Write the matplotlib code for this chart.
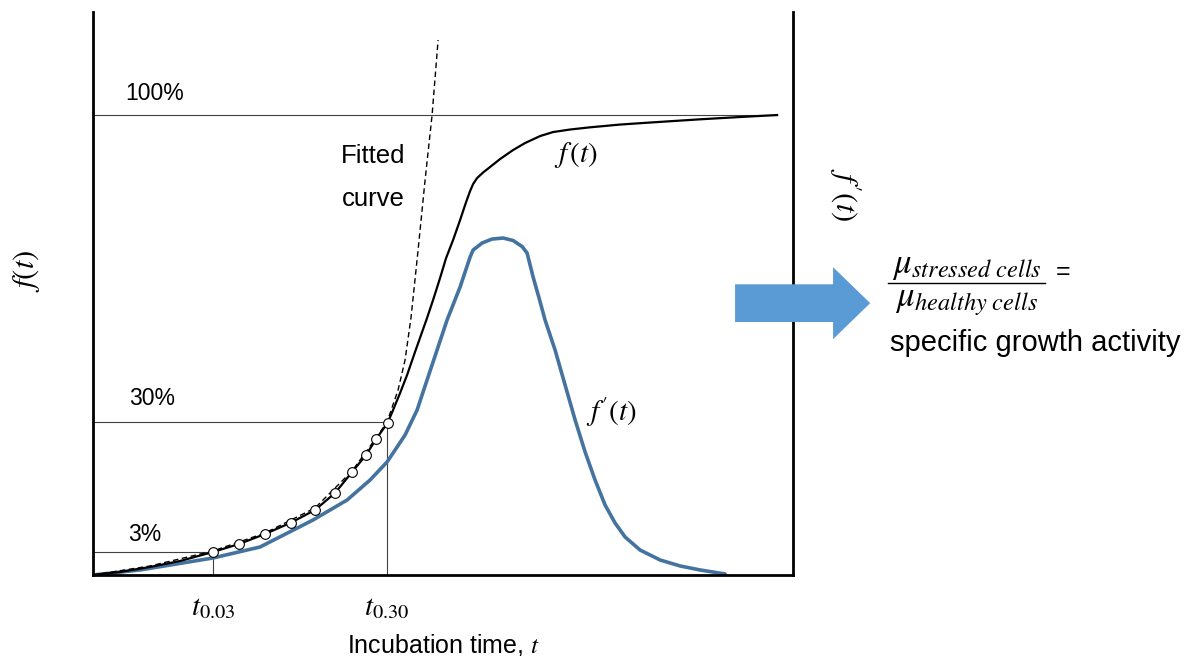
import matplotlib
matplotlib.use('agg')
import matplotlib.pyplot as plt
from matplotlib.patches import FancyArrow

plt.rcParams['font.family'] = 'Liberation Sans'
plt.rcParams['mathtext.fontset'] = 'stix'

# f(t): cumulative growth curve (time in % of window, f in % of max)
t_f = [0, 3.86, 8.14, 12.43, 17.14, 20.86, 24.57, 28.29, 31.71, 34.57, 37.0, 39.0,
       40.43, 42.07, 42.86, 43.86, 44.86, 45.99, 47.71, 48.57, 49.57, 50.43, 51.43,
       52.43, 53.29, 53.86, 54.29, 54.86, 55.71, 56.71, 58.14, 60.0, 61.71, 63.86,
       65.71, 68.14, 71.0, 75.29, 79.57, 86.71, 92.43, 97.71]
f_vals = [0, 0.65, 1.74, 3.04, 5.0, 6.74, 8.91, 11.4, 14.13, 17.83, 22.39, 26.09,
          29.57, 33.04, 35.87, 39.57, 43.48, 48.48, 55.87, 59.78, 64.57, 68.91, 72.83,
          77.17, 81.09, 83.48, 85.0, 86.3, 87.5, 88.7, 90.43, 92.39, 93.91, 95.43,
          96.3, 96.85, 97.33, 97.93, 98.37, 99.07, 99.57, 100]

# measured points used for the fit (open circles)
t_pts = [17.14, 20.86, 24.57, 28.29, 31.71, 34.57, 37.0, 39.0, 40.43, 42.07]
f_pts = [5.0, 6.74, 8.91, 11.4, 14.13, 17.83, 22.39, 26.09, 29.57, 33.04]

# fitted exponential curve (dashed)
t_fit = [0, 8.14, 17.14, 24.57, 31.71, 37.0, 40.43, 42.0, 43.57, 44.57, 45.43,
         46.43, 47.43, 48.43, 49.29]
f_fit = [0, 1.96, 5.22, 9.13, 14.57, 22.61, 29.78, 33.26, 40.22, 46.74, 56.09,
         70.65, 85.87, 100, 116.3]

# f'(t): derivative curve (blue)
t_d = [0, 6.71, 17.14, 23.86, 31.43, 36.29, 39.57, 42.0, 44.57, 46.29, 47.71, 49.14,
       50.57, 52.43, 53.86, 54.29, 55.57, 57.0, 58.57, 60.0, 61.29, 62.0, 62.86,
       63.71, 64.57, 66.0, 67.43, 68.86, 70.29, 71.71, 73.14, 74.57, 76.0, 78.14,
       81.0, 83.86, 86.71, 90.29]
d_vals = [0, 1.09, 3.7, 6.09, 11.96, 16.3, 20.65, 24.57, 30.43, 35.87, 42.39, 48.91,
          55.43, 62.61, 69.13, 70.65, 72.17, 73.04, 73.26, 72.72, 71.41, 70.0, 64.78,
          60.22, 55.43, 48.91, 41.3, 33.7, 26.74, 20.65, 15.22, 11.3, 8.26, 5.43,
          3.26, 1.96, 1.09, 0.22]

# reference levels and threshold times
lev_100 = 100
lev_30 = 33.2
lev_3 = 5.0
t03 = 17.14
t30 = 42.0

fig = plt.figure(figsize=(11.93, 6.56), dpi=100)
ax = fig.add_axes([0.078, 0.1235, 0.5868, 0.8582])
ax.set_xlim(0, 100)
ax.set_ylim(0, 122.4)

grey = '#404040'
ax.plot([0, 97.71], [lev_100, lev_100], color=grey, lw=0.8)
ax.plot([0, t30], [lev_30, lev_30], color=grey, lw=0.8)
ax.plot([t30, t30], [0, lev_30], color=grey, lw=0.8)
ax.plot([0, t03], [lev_3, lev_3], color=grey, lw=0.8)
ax.plot([t03, t03], [0, lev_3], color=grey, lw=0.8)

ax.plot(t_d, d_vals, color='#44739f', lw=2.6, solid_joinstyle='round', solid_capstyle='round')
ax.plot(t_fit, f_fit, color='black', lw=1.0, ls=(0, (4, 2.5)), clip_on=False)
ax.plot(t_f, f_vals, color='black', lw=1.6, solid_joinstyle='round')
ax.plot(t_pts, f_pts, ls='none', marker='o', ms=7, mfc='white', mec='black', mew=0.8)

for s in ['left', 'right', 'bottom']:
    ax.spines[s].set_linewidth(2)
    ax.spines[s].set_color('black')
ax.spines['top'].set_visible(False)
ax.set_xticks([])
ax.set_yticks([])

ax.text(8.76, 104.6, '100%', fontsize=16.5, ha='center', va='center')
ax.text(8.38, 38.3, '30%', fontsize=16.5, ha='center', va='center')
ax.text(7.43, 8.9, '3%', fontsize=16.5, ha='center', va='center')
ax.text(40.0, 89.5, 'Fitted', fontsize=18.5, ha='center', va='baseline')
ax.text(40.0, 80.2, 'curve', fontsize=18.5, ha='center', va='baseline')
ax.text(69.0, 91.3, '$f\\,(t)$', fontsize=21, ha='center', va='center')
ax.text(74.1, 35.4, "$f'(t)$", fontsize=21, ha='center', va='center')
ax.text(t03, -6.9, '$t_{0.03}$', fontsize=21, ha='center', va='center', clip_on=False)
ax.text(t30, -6.9, '$t_{0.30}$', fontsize=21, ha='center', va='center', clip_on=False)

arrow = FancyArrow(91.71, 59.1, 19.3, 0, width=8.2, head_width=15.65, head_length=5.3,
                   length_includes_head=True, color='#5b9bd5', lw=0, clip_on=False, zorder=5)
ax.add_patch(arrow)

fig.text(443 / 1193, 0.005, 'Incubation time, $t$', fontsize=18, ha='center', va='baseline')
fig.text(0.0226, 0.587, '$f(t)$', fontsize=22, rotation=90, ha='center', va='center')
fig.text(0.708, 0.703, "$f'(t)$", fontsize=22, rotation=270, ha='center', va='center')

fig.text(0.81, 0.595, '$\\mu_{stressed\\ cells}$', fontsize=25, ha='center', va='center')
fig.add_artist(plt.Line2D([0.744, 0.876], [0.5686, 0.5686], color='black', lw=1.0))
fig.text(0.81, 0.54, '$\\mu_{healthy\\ cells}$', fontsize=25, ha='center', va='center')
fig.text(0.891, 0.585, '=', fontsize=18, ha='center', va='center')
fig.text(0.8676, 0.477, 'specific growth activity', fontsize=21, ha='center', va='center')

fig.savefig('out.png', dpi=100)
